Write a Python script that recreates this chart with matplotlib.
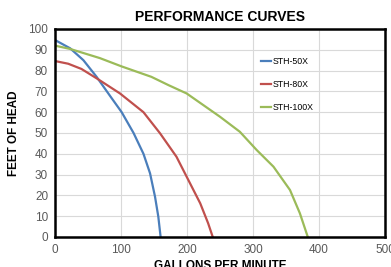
import matplotlib
matplotlib.use("Agg")
import matplotlib.pyplot as plt

plt.rcParams['font.family'] = ['Liberation Sans', 'DejaVu Sans']

# flow (gpm) / head (ft)
gpm_50 = [0, 23, 43, 63, 83, 101, 119, 134, 144, 151.5, 156.5, 160]
head_50 = [94.7, 90.7, 85, 77, 68, 60, 50, 40, 30.6, 19.4, 9.8, 0]

gpm_80 = [0, 20, 40, 63, 98.5, 134, 159, 184, 202, 220, 232, 239]
head_80 = [84.6, 83.3, 80.8, 76.3, 69, 60, 49.9, 38.6, 27.4, 16.2, 6.6, 0]

gpm_100 = [0, 23, 68, 101, 146, 172, 199.5, 250, 280, 305.6, 331, 356, 371, 383]
head_100 = [92, 90.4, 86, 82, 77, 73, 69, 57.8, 50.6, 41.8, 33.8, 22.6, 11.4, 0]

labels = ["STH-50X", "STH-80X", "STH-100X"]
colors = ["#4a7ebb", "#c0504d", "#9bbb59"]

fig = plt.figure(figsize=(3.91, 2.67), dpi=100)
ax = fig.add_axes([0.1407, 0.1124, 0.844, 0.779])

ax.plot(gpm_50, head_50, color=colors[0], lw=1.6, label=labels[0])
ax.plot(gpm_80, head_80, color=colors[1], lw=1.6, label=labels[1])
ax.plot(gpm_100, head_100, color=colors[2], lw=1.6, label=labels[2])

ax.set_xlim(0, 500)
ax.set_ylim(0, 100)
ax.set_xticks(range(0, 501, 100))
ax.set_yticks(range(0, 101, 10))
ax.grid(True, color="#d9d9d9", lw=0.8)
ax.set_axisbelow(True)
ax.tick_params(length=0, labelsize=8.5, colors="#595959", pad=5)
for s in ax.spines.values():
    s.set_linewidth(1.8)
    s.set_color("black")

ax.set_title("PERFORMANCE CURVES", fontsize=10, fontweight="bold", pad=6)
ax.set_xlabel("GALLONS PER MINUTE", fontsize=8.5, fontweight="bold", labelpad=3)
ax.set_ylabel("FEET OF HEAD", fontsize=8.5, fontweight="bold", labelpad=6)

ax.legend(loc="upper left", bbox_to_anchor=(0.6, 0.905), frameon=False,
          fontsize=6.3, handlelength=1.2, handletextpad=0.1, labelspacing=1.6)

fig.savefig("out.png", dpi=100)
